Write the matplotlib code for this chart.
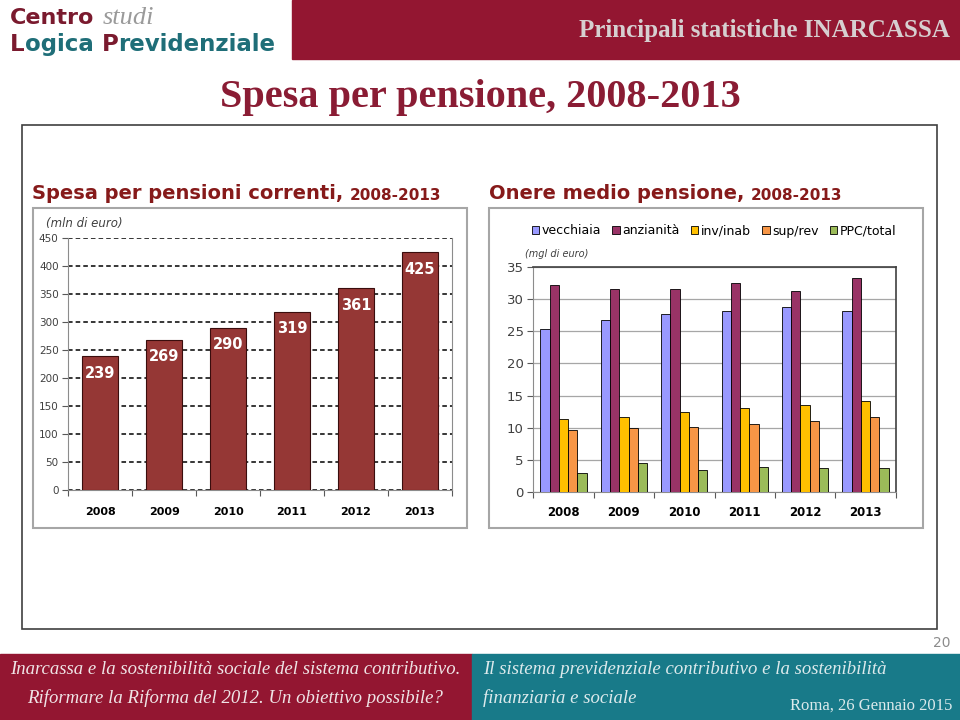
import numpy as np
import matplotlib.pyplot as plt
from matplotlib.patches import Rectangle

# =========================
# DATI
# =========================
anni = ['2008', '2009', '2010', '2011', '2012', '2013']

# spesa per pensioni correnti (mln di euro)
spesa = [239, 269, 290, 319, 361, 425]

# onere medio pensione (mgl di euro)
vecchiaia = [25.4, 26.7, 27.7, 28.1, 28.7, 28.1]
anzianita = [32.2, 31.6, 31.6, 32.4, 31.3, 33.2]
inv_inab = [11.3, 11.7, 12.5, 13.1, 13.6, 14.1]
sup_rev = [9.6, 10.0, 10.2, 10.6, 11.1, 11.7]
ppc_total = [3.0, 4.5, 3.5, 3.9, 3.7, 3.7]

serie = [vecchiaia, anzianita, inv_inab, sup_rev, ppc_total]
serie_nomi = ['vecchiaia', 'anzianità', 'inv/inab', 'sup/rev', 'PPC/total']
serie_colori = ['#9999FF', '#993366', '#FFC000', '#F79646', '#9BBB59']

# =========================
# LAYOUT (pixel della slide)
# =========================
W, H = 960, 720
ROSSO = '#931631'
TEAL = '#187A89'
ROSSO_TITOLO = '#8A1C34'
ROSSO_GRAFICO = '#861A1A'
SERIF = 'Liberation Serif'


def box(x0, y0, x1, y1):
    return [x0 / W, 1 - y1 / H, (x1 - x0) / W, (y1 - y0) / H]


def segue(prev, testo, **kw):
    # testo attaccato a destra del precedente
    return bg.annotate(testo, xy=(1, 0), xycoords=prev, ha='left', va='bottom', **kw)


fig = plt.figure(figsize=(9.6, 7.2), dpi=100)
bg = fig.add_axes([0, 0, 1, 1])
bg.set_xlim(0, W)
bg.set_ylim(H, 0)
bg.axis('off')

# =========================
# INTESTAZIONE
# =========================
bg.add_patch(Rectangle((292, 0), W - 292, 59, color=ROSSO))
bg.text(950, 31, 'Principali statistiche INARCASSA', ha='right', va='center',
        family=SERIF, weight='bold', size=18, color='#D6CFD0')

bg.text(10, 28, 'Centro', weight='bold', size=16, color='#7A1A2E', va='bottom')
bg.text(103, 24, 'studi', family=SERIF, style='italic', size=19, color='#9A9A9A',
        va='baseline')
t = bg.text(10, 56, 'L', weight='bold', size=16.5, color='#7A1A2E', va='bottom')
t = segue(t, 'ogica ', weight='bold', size=16.5, color='#1F6E78')
t = segue(t, 'P', weight='bold', size=16.5, color='#7A1A2E')
segue(t, 'revidenziale', weight='bold', size=16.5, color='#1F6E78')

bg.text(480, 97, 'Spesa per pensione, 2008-2013', ha='center', va='center',
        family=SERIF, weight='bold', size=29, color=ROSSO_TITOLO)

# cornice
bg.add_patch(Rectangle((22, 125), 915, 504, fill=False, ec='#3F3F3F', lw=1.2))
bg.text(942, 643, '20', ha='center', va='center', size=10, color='#8C8C8C')

# =========================
# PIE' DI PAGINA
# =========================
bg.add_patch(Rectangle((0, 654), 472, 66, color=ROSSO))
bg.add_patch(Rectangle((472, 654), W - 472, 66, color=TEAL))
piede = dict(family=SERIF, style='italic', size=13.5, va='center')
bg.text(235, 669, 'Inarcassa e la sostenibilità sociale del sistema contributivo.',
        ha='center', color='#EFE4E6', **piede)
bg.text(235, 698, 'Riformare la Riforma del 2012. Un obiettivo possibile?',
        ha='center', color='#EFE4E6', **piede)
bg.text(483, 669, 'Il sistema previdenziale contributivo e la sostenibilità',
        ha='left', color='#DCEAEC', **piede)
bg.text(483, 698, 'finanziaria e sociale', ha='left', color='#DCEAEC', **piede)
bg.text(952, 706, 'Roma, 26 Gennaio 2015', ha='right', va='center',
        family=SERIF, size=12, color='#DCEAEC')

# =========================
# PANNELLI DEI GRAFICI
# =========================
for x0 in (33, 489):
    bg.add_patch(Rectangle((x0, 208), 434, 320, fc='white', ec='#A6A6A6', lw=1.5))

t = bg.text(32, 203, 'Spesa per pensioni correnti, ', weight='bold', size=14,
            color=ROSSO_GRAFICO, va='bottom')
segue(t, '2008-2013', weight='bold', size=11, color=ROSSO_GRAFICO)
t = bg.text(489, 203, 'Onere medio pensione, ', weight='bold', size=14,
            color=ROSSO_GRAFICO, va='bottom')
segue(t, '2008-2013', weight='bold', size=11, color=ROSSO_GRAFICO)

x = np.arange(len(anni))

# =========================
# GRAFICO 1: spesa
# =========================
ax1 = fig.add_axes(box(68.3, 238.3, 451.7, 490))
barre = ax1.bar(x, spesa, width=0.56, color='#953735', edgecolor='#3A0D0D',
                linewidth=0.8, zorder=3)
for xi, v in zip(x, spesa):
    ax1.annotate(str(v), xy=(xi, v), xytext=(0, -17), textcoords='offset pixels',
                 ha='center', va='center', color='white', weight='bold', size=10.5,
                 zorder=4)

ax1.set_xlim(-0.5, 5.5)
ax1.set_ylim(0, 450)
ax1.set_yticks(range(0, 451, 50))
ax1.yaxis.grid(True, linestyle=(0, (3, 2)), color='black', linewidth=1.1)
ax1.set_axisbelow(True)
ax1.set_xticks(np.arange(-0.5, 6, 1))
ax1.set_xticklabels([])
ax1.set_xticks(x, minor=True)
ax1.set_xticklabels(anni, minor=True, weight='bold', size=8)
ax1.tick_params(axis='x', which='major', length=4, color='#595959')
ax1.tick_params(axis='x', which='minor', length=0, pad=12)
ax1.tick_params(axis='y', length=4, color='#595959', labelsize=7.5,
                labelcolor='#404040', pad=3)
ax1.spines['top'].set_visible(False)
for s in ('left', 'bottom', 'right'):
    ax1.spines[s].set_color('#8C8C8C')
ax1.patch.set_alpha(0)
bg.text(46, 223, '(mln di euro)', style='italic', size=8.5, color='#404040',
        va='center')

# =========================
# GRAFICO 2: onere medio
# =========================
ax2 = fig.add_axes(box(533.3, 266.7, 895.7, 492.3))
larg = 0.153
for i, (val, nome, col) in enumerate(zip(serie, serie_nomi, serie_colori)):
    ax2.bar(x + (i - 2) * larg, val, width=larg, color=col, edgecolor='black',
            linewidth=0.6, label=nome, zorder=3)

ax2.set_xlim(-0.5, 5.5)
ax2.set_ylim(0, 35)
ax2.set_yticks(range(0, 36, 5))
ax2.yaxis.grid(True, color='#A6A6A6', linewidth=0.9)
ax2.set_axisbelow(True)
ax2.set_xticks(np.arange(-0.5, 6, 1))
ax2.set_xticklabels([])
ax2.set_xticks(x, minor=True)
ax2.set_xticklabels(anni, minor=True, weight='bold', size=8.5)
ax2.tick_params(axis='x', which='major', length=4, color='#595959')
ax2.tick_params(axis='x', which='minor', length=0, pad=10)
ax2.tick_params(axis='y', length=4, color='#595959', labelsize=9.5,
                labelcolor='#404040', pad=3)
for s in ('left', 'bottom'):
    ax2.spines[s].set_color('#8C8C8C')
for s in ('top', 'right'):
    ax2.spines[s].set_color('#404040')
    ax2.spines[s].set_linewidth(1.2)
ax2.patch.set_alpha(0)
bg.text(525, 254, '(mgl di euro)', style='italic', size=7, color='#404040',
        va='center')

ax2.legend(loc='center', bbox_to_anchor=(714 / W, 1 - 231 / H),
           bbox_transform=fig.transFigure, ncol=5, frameon=False, fontsize=9,
           handlelength=0.6, handleheight=0.6, handletextpad=0.2,
           columnspacing=0.9, borderpad=0)

fig.savefig('out.png', dpi=100)
